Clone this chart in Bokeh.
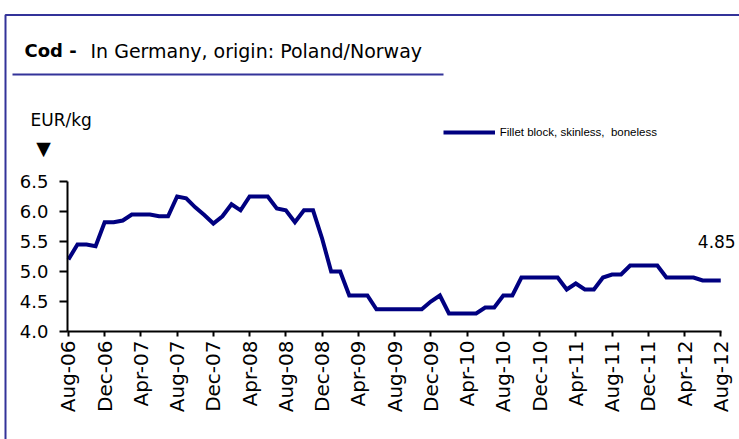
import math
from bokeh.plotting import figure
from bokeh.models import (FixedTicker, NumeralTickFormatter, Label, PolyAnnotation,
                          Range1d, LinearAxis)
from bokeh.embed import file_html
from bokeh.resources import INLINE

# ---- data (monthly, Aug-06 .. Aug-12), EUR/kg ----
prices = [5.2, 5.45, 5.45, 5.42, 5.82, 5.82, 5.85, 5.95, 5.95, 5.95,
          5.92, 5.92, 6.25, 6.22, 6.07, 5.94, 5.8, 5.92, 6.12, 6.02,
          6.25, 6.25, 6.25, 6.05, 6.02, 5.82, 6.02, 6.02, 5.55, 5.0,
          5.0, 4.6, 4.6, 4.6, 4.37, 4.37, 4.37, 4.37, 4.37, 4.37,
          4.5, 4.6, 4.3, 4.3, 4.3, 4.3, 4.4, 4.4, 4.6, 4.6,
          4.9, 4.9, 4.9, 4.9, 4.9, 4.7, 4.8, 4.7, 4.7, 4.9,
          4.95, 4.95, 5.1, 5.1, 5.1, 5.1, 4.9, 4.9, 4.9, 4.9,
          4.85, 4.85, 4.85]
tick_labels = ["Aug-06", "Dec-06", "Apr-07", "Aug-07", "Dec-07", "Apr-08",
               "Aug-08", "Dec-08", "Apr-09", "Aug-09", "Dec-09", "Apr-10",
               "Aug-10", "Dec-10", "Apr-11", "Aug-11", "Dec-11", "Apr-12",
               "Aug-12"]
tick_step = 4
y_ticks = [4.0, 4.5, 5.0, 5.5, 6.0, 6.5]
series_name = "Fillet block, skinless,  boneless"
title_bold = "Cod -"
title_rest = "In Germany, origin: Poland/Norway"
unit_text = "EUR/kg"

month_idx = list(range(len(prices)))
tick_pos = [i * tick_step for i in range(len(tick_labels))]

FONT = "DejaVu Sans"
FRAME_BLUE = "#333399"
LINE_BLUE = "#000080"

W, H = 739, 439
# plot area in canvas pixels
PX_L, PX_R = 67.0, 720.7      # x of first / last month
PY_T, PY_B = 181.0, 331.0     # y of top / bottom y tick
x0, x1 = -0.1, month_idx[-1] + 0.05
kx = (PX_R - PX_L) / (x1 - x0)
ky = (PY_B - PY_T) / (y_ticks[-1] - y_ticks[0])
xr = Range1d(x0 - PX_L / kx, x1 + (W - PX_R) / kx)
yr = Range1d(y_ticks[0] - (H - PY_B) / ky, y_ticks[-1] + PY_T / ky)

p = figure(width=W, height=H, output_backend="svg", toolbar_location=None,
           x_range=xr, y_range=yr, x_axis_location=None, y_axis_location=None,
           min_border=0)
p.grid.visible = False
p.outline_line_color = None
p.background_fill_color = "white"
p.border_fill_color = "white"

# x axis
xa = LinearAxis(fixed_location=y_ticks[0], bounds=(x0, x1))
xa.ticker = FixedTicker(ticks=tick_pos)
xa.major_label_overrides = {t: lab for t, lab in zip(tick_pos, tick_labels)}
xa.major_label_orientation = math.pi / 2
xa.major_label_text_font = FONT
xa.major_label_text_font_size = "20px"
xa.major_label_text_color = "black"
xa.major_label_standoff = 4
xa.axis_line_width = 2
xa.axis_line_color = "black"
xa.major_tick_line_width = 2
xa.major_tick_line_color = "black"
xa.major_tick_out = 5
xa.major_tick_in = 0
xa.minor_tick_line_color = None
p.add_layout(xa, "below")

# y axis
ya = LinearAxis(fixed_location=x0, bounds=(y_ticks[0], y_ticks[-1]))
ya.ticker = FixedTicker(ticks=y_ticks)
ya.formatter = NumeralTickFormatter(format="0.0")
ya.major_label_text_font = FONT
ya.major_label_text_font_size = "18px"
ya.major_label_text_color = "black"
ya.major_label_standoff = 11
ya.axis_line_width = 2
ya.axis_line_color = "black"
ya.major_tick_line_width = 2
ya.major_tick_line_color = "black"
ya.major_tick_out = 8
ya.major_tick_in = 0
ya.minor_tick_line_color = None
p.add_layout(ya, "left")

# series
p.line(month_idx, prices, line_color=LINE_BLUE, line_width=4,
       line_join="miter", legend_label=series_name)

lg = p.legend[0]
lg.location = (442.7, 301)
lg.glyph_width = 52
lg.glyph_height = 12
lg.label_height = 12
lg.label_standoff = 5
lg.padding = 0
lg.margin = 0
lg.border_line_color = None
lg.background_fill_alpha = 0
lg.label_text_font = "Liberation Sans"
lg.label_text_font_size = "11.5px"
lg.label_text_color = "black"

# last value label
p.add_layout(Label(x=month_idx[-1], y=prices[-1], text=f"{prices[-1]:.2f}",
                   x_offset=-4, y_offset=39, text_align="center",
                   text_baseline="alphabetic", text_font=FONT,
                   text_font_size="17px", text_color="black"))

# screen positions (origin = canvas bottom-left)
p.add_layout(PolyAnnotation(xs=[5, 5, 900, 900], ys=[-100, 424.5, 424.5, -100],
                            xs_units="screen", ys_units="screen",
                            fill_alpha=0, line_color=FRAME_BLUE, line_alpha=1,
                            line_width=2))
p.add_layout(PolyAnnotation(xs=[12, 443, 443, 12], ys=[365, 365, 365, 365],
                            xs_units="screen", ys_units="screen",
                            fill_alpha=0, line_color=FRAME_BLUE, line_alpha=1,
                            line_width=2))
p.add_layout(Label(x=24, y=389, x_units="screen", y_units="screen",
                   text=title_bold, text_font=FONT, text_font_style="bold",
                   text_font_size="18px", text_baseline="alphabetic",
                   text_color="black"))
p.add_layout(Label(x=90, y=389, x_units="screen", y_units="screen",
                   text=title_rest, text_font=FONT, text_font_size="19px",
                   text_baseline="alphabetic", text_color="black"))
p.add_layout(Label(x=30, y=320, x_units="screen", y_units="screen",
                   text=unit_text, text_font=FONT, text_font_size="17px",
                   text_baseline="alphabetic", text_color="black"))
p.add_layout(Label(x=43, y=292, x_units="screen", y_units="screen",
                   text="▼", text_font=FONT, text_font_size="19px",
                   text_align="center", text_baseline="middle",
                   text_color="black"))

open("out.html", "w").write(file_html(p, INLINE))
